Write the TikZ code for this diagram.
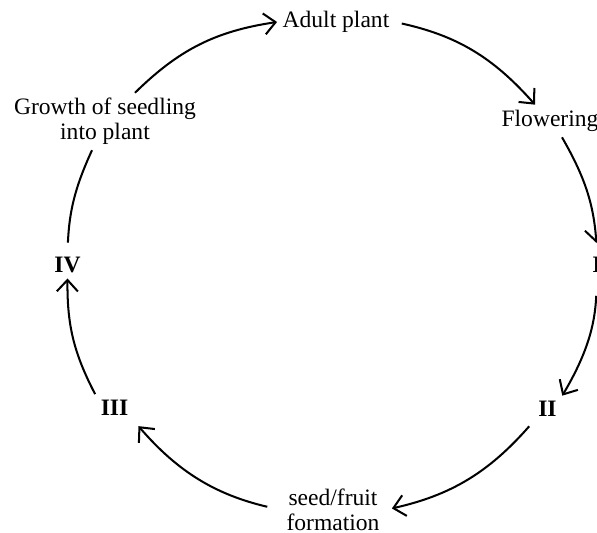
\documentclass[tikz,border=0pt]{standalone}
\usepackage{fontspec}
\setmainfont{Liberation Serif}
\usetikzlibrary{arrows.meta}
\begin{document}
\begin{tikzpicture}[every node/.style={font=\fontsize{13.4}{14}\selectfont,inner sep=3pt},
  stage/.style={align=center},
  num/.style={font=\fontsize{13.4}{14}\selectfont\bfseries},
  cyc/.style={line width=1.15pt,-{Straight Barb[length=6.5pt,width=12pt]}}]
\useasboundingbox (0,0) rectangle (11.94,10.66);
\node[stage] (adult) at (6.72,10.22) {Adult plant};
\node[stage] (flower) at (11.0,8.24) {Flowering};
\node[num] (one) at (11.94,5.36) {I};
\node[num] (two) at (10.95,2.48) {II};
\node[stage] (seed) at (6.66,0.46) {seed/fruit\\ formation};
\node[num] (three) at (2.29,2.51) {III};
\node[num] (four) at (1.35,5.36) {IV};
\node[stage] (growth) at (2.10,8.23) {Growth of seedling\\ into plant};
\draw[cyc] ([xshift=0.6cm]growth.north) to[bend left=18] (adult.west);
\draw[cyc,shorten <=4pt] (adult.east) to[bend left=18] ([xshift=-0.3cm]flower.north);
\draw[cyc,shorten >=5pt] ([xshift=0.24cm]flower.south) to[bend left=13] (one.north);
\draw[cyc,shorten <=0.35cm] (one.south) to[bend left=14] (two.north east);
\draw[cyc,shorten <=3pt,shorten >=4pt] (two.south west) to[bend left=18] (seed.east);
\draw[cyc,shorten <=8pt,shorten >=4pt] (seed.west) to[bend left=18] (three.south east);
\draw[cyc] (three.north west) to[bend left=14] (four.south);
\draw[line width=1.15pt,shorten <=5pt] (four.north) to[bend left=11] ([xshift=-0.26cm]growth.south);
\end{tikzpicture}
\end{document}
